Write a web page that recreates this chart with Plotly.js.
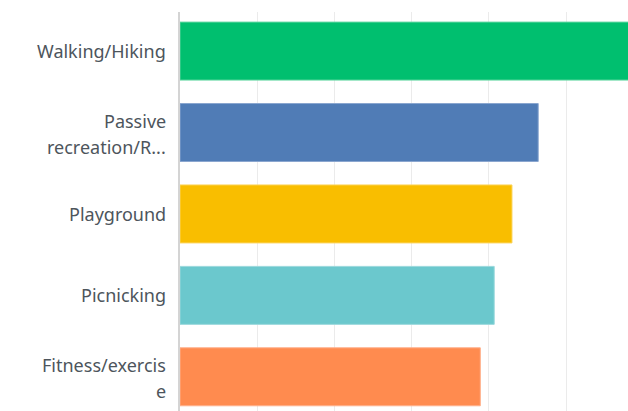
<!DOCTYPE html>
<html>
<head>
<meta charset="utf-8">
<script src="https://cdn.plot.ly/plotly-3.0.1.min.js"></script>
<style>html,body{margin:0;padding:0;background:#fff;}#chart{width:628px;height:411px;}</style>
</head>
<body>
<div id="chart"></div>
<script>
const categories = ["Walking/Hiking", "Passive recreation/R...", "Playground", "Picnicking", "Fitness/exercise"];
const tickLabels = ["Walking/Hiking", "Passive<br>recreation/R...", "Playground", "Picnicking", "Fitness/exercis<br>e"];
const values = [75.0, 46.4, 43.0, 40.7, 38.9];
const colors = ["#00bf6f", "#507cb6", "#f9be00", "#6bc8cd", "#ff8b4f"];
const borderColors = ["#5fd6a0", "#8aa6cf", "#fbd45c", "#9ad8dc", "#ffb08a"];

const trace = {
  type: "bar",
  orientation: "h",
  y: categories,
  x: values,
  marker: {color: colors, line: {color: borderColors, width: 1}},
  hoverinfo: "none"
};

const labelFont = {family: "Noto Sans, Roboto, sans-serif", size: 18, color: "#4d555c"};
const lineGap = 26;
const annotations = [];
tickLabels.forEach((lbl, i) => {
  const lines = lbl.split("<br>");
  const n = lines.length;
  lines.forEach((ln, j) => {
    annotations.push({
      xref: "paper", yref: "y", x: 0, y: categories[i],
      text: ln, showarrow: false, xanchor: "right", yanchor: "middle",
      xshift: -12, yshift: ((n - 1) / 2 - j) * lineGap + (n > 1 ? -1 : 0),
      font: labelFont
    });
  });
});

const layout = {
  width: 628, height: 411,
  margin: {l: 180, r: 0, t: 12, b: 0},
  paper_bgcolor: "#fff", plot_bgcolor: "#fff",
  bargap: 0.288,
  showlegend: false,
  xaxis: {
    range: [0, 58.03], dtick: 10, tick0: 0,
    showticklabels: false, showgrid: true, gridcolor: "#ebebeb", gridwidth: 1,
    zeroline: false, showline: false, fixedrange: true
  },
  yaxis: {
    type: "category",
    range: [4.42, -0.48],
    showticklabels: false, ticks: "",
    showline: true, linecolor: "#d4d4d4", linewidth: 2,
    showgrid: false, zeroline: false
  },
  annotations: annotations,
  font: {family: "Noto Sans, Roboto, sans-serif"}
};

Plotly.newPlot("chart", [trace], layout, {displayModeBar: false, staticPlot: true});
</script>
</body>
</html>
